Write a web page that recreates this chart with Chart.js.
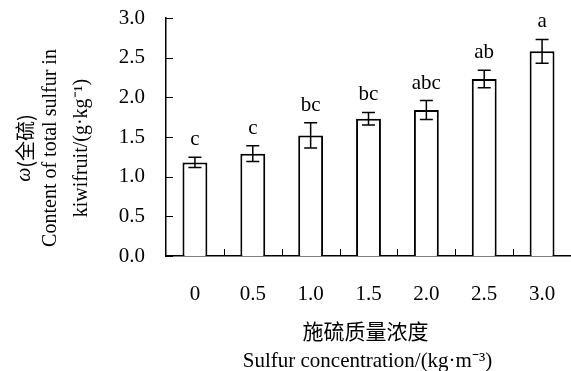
<!DOCTYPE html>
<html>
<head>
<meta charset="utf-8">
<script src="https://cdn.jsdelivr.net/npm/chart.js@4"></script>
<style>
  body { margin: 0; background: #fff; }
</style>
</head>
<body>
<canvas id="grafico" width="571" height="371"></canvas>
<script>
// datos
const categorias = ['0', '0.5', '1.0', '1.5', '2.0', '2.5', '3.0'];
const azufre = [1.18, 1.29, 1.52, 1.73, 1.84, 2.23, 2.58];
const errores = [0.065, 0.10, 0.16, 0.08, 0.12, 0.11, 0.15];
const letras = ['c', 'c', 'bc', 'bc', 'abc', 'ab', 'a'];
const ticksY = [0, 0.5, 1.0, 1.5, 2.0, 2.5, 3.0];

const serif = '"Liberation Serif", "Times New Roman", serif';
const cjk = '"Noto Sans CJK SC", sans-serif';

// barras de error, letras, marcas hacia dentro y titulos
const extras = {
    id: 'extras',
    afterDatasetsDraw(chart) {
        const ctx = chart.ctx;
        const x = chart.scales.x, y = chart.scales.y;
        ctx.save();
        ctx.strokeStyle = '#000';
        ctx.fillStyle = '#000';
        ctx.lineWidth = 1.5;
        azufre.forEach((v, i) => {
            const cx = x.getPixelForValue(i);
            const top = y.getPixelForValue(v + errores[i]);
            const bot = y.getPixelForValue(v - errores[i]);
            ctx.beginPath();
            ctx.moveTo(cx, top); ctx.lineTo(cx, bot);
            ctx.moveTo(cx - 6.5, top); ctx.lineTo(cx + 6.5, top);
            ctx.moveTo(cx - 6.5, bot); ctx.lineTo(cx + 6.5, bot);
            ctx.stroke();
            ctx.font = '21px ' + serif;
            ctx.textAlign = 'center';
            ctx.textBaseline = 'alphabetic';
            ctx.fillText(letras[i], cx, top - 12);
        });
        // marcas del eje y hacia dentro
        ctx.lineWidth = 1;
        ticksY.forEach(t => {
            const py = Math.round(y.getPixelForValue(t)) + 0.5;
            ctx.beginPath();
            ctx.moveTo(x.left, py); ctx.lineTo(x.left + 7, py);
            ctx.stroke();
        });
        // marcas del eje x entre categorias
        for (let i = 1; i < categorias.length; i++) {
            const px = Math.round((x.getPixelForValue(i - 1) + x.getPixelForValue(i)) / 2) + 0.5;
            ctx.beginPath();
            ctx.moveTo(px, y.bottom); ctx.lineTo(px, y.bottom - 7);
            ctx.stroke();
        }
        ctx.restore();
    },
    afterDraw(chart) {
        const ctx = chart.ctx;
        const area = chart.chartArea;
        ctx.save();
        ctx.fillStyle = '#000';
        ctx.textBaseline = 'middle';
        ctx.textAlign = 'center';
        // titulo eje x
        const cx = (area.left + area.right) / 2;
        ctx.font = '21px ' + cjk;
        ctx.fillText('施硫质量浓度', cx - 3, 331);
        ctx.font = '21px ' + serif;
        ctx.fillText('Sulfur concentration/(kg\u00b7m\u207b\u00b3)', cx - 1, 361);
        // titulo eje y (girado)
        const cy = 148;
        ctx.translate(0, cy);
        ctx.rotate(-Math.PI / 2);
        ctx.font = 'italic 20px ' + serif;
        const w1 = ctx.measureText('\u03c9').width;
        ctx.font = '20px ' + cjk;
        const w2 = ctx.measureText('(全硫)').width;
        const inicio = -(w1 + w2) / 2;
        ctx.textAlign = 'left';
        ctx.font = 'italic 20px ' + serif;
        ctx.fillText('\u03c9', inicio, 25);
        ctx.font = '20px ' + cjk;
        ctx.fillText('(全硫)', inicio + w1, 25);
        ctx.textAlign = 'center';
        ctx.font = '20px ' + serif;
        ctx.fillText('Content of total sulfur in', 0, 51);
        ctx.fillText('kiwifruit/(g\u00b7kg\u207b\u00b9)', 0, 82);
        ctx.restore();
    }
};

document.addEventListener('DOMContentLoaded', () => {
    const ctx = document.getElementById('grafico').getContext('2d');
    new Chart(ctx, {
        type: 'bar',
        data: {
            labels: categorias,
            datasets: [{
                data: azufre,
                backgroundColor: '#fff',
                borderColor: '#000',
                borderWidth: 2,
                borderSkipped: 'bottom',
                categoryPercentage: 1,
                barPercentage: 0.43
            }]
        },
        options: {
            responsive: false,
            animation: false,
            layout: { padding: { top: 18, right: 0, left: 0, bottom: 0 } },
            plugins: { legend: { display: false }, tooltip: { enabled: false } },
            scales: {
                x: {
                    grid: { display: false, drawTicks: false },
                    border: { display: true, color: '#000', width: 1.5 },
                    ticks: { color: '#000', font: { family: serif, size: 21 }, padding: 26, maxRotation: 0 },
                    afterFit(scale) { scale.height = 115; scale.paddingLeft = 0; scale.paddingRight = 0; }
                },
                y: {
                    min: 0, max: 3,
                    grid: { display: false, drawTicks: false },
                    border: { display: true, color: '#000', width: 1.5 },
                    ticks: {
                        stepSize: 0.5, color: '#000', padding: 21,
                        font: { family: serif, size: 21 },
                        callback: v => v.toFixed(1)
                    },
                    afterFit(scale) { scale.width = 166; scale.paddingTop = 0; scale.paddingBottom = 0; }
                }
            }
        },
        plugins: [extras]
    });
});
</script>
</body>
</html>
